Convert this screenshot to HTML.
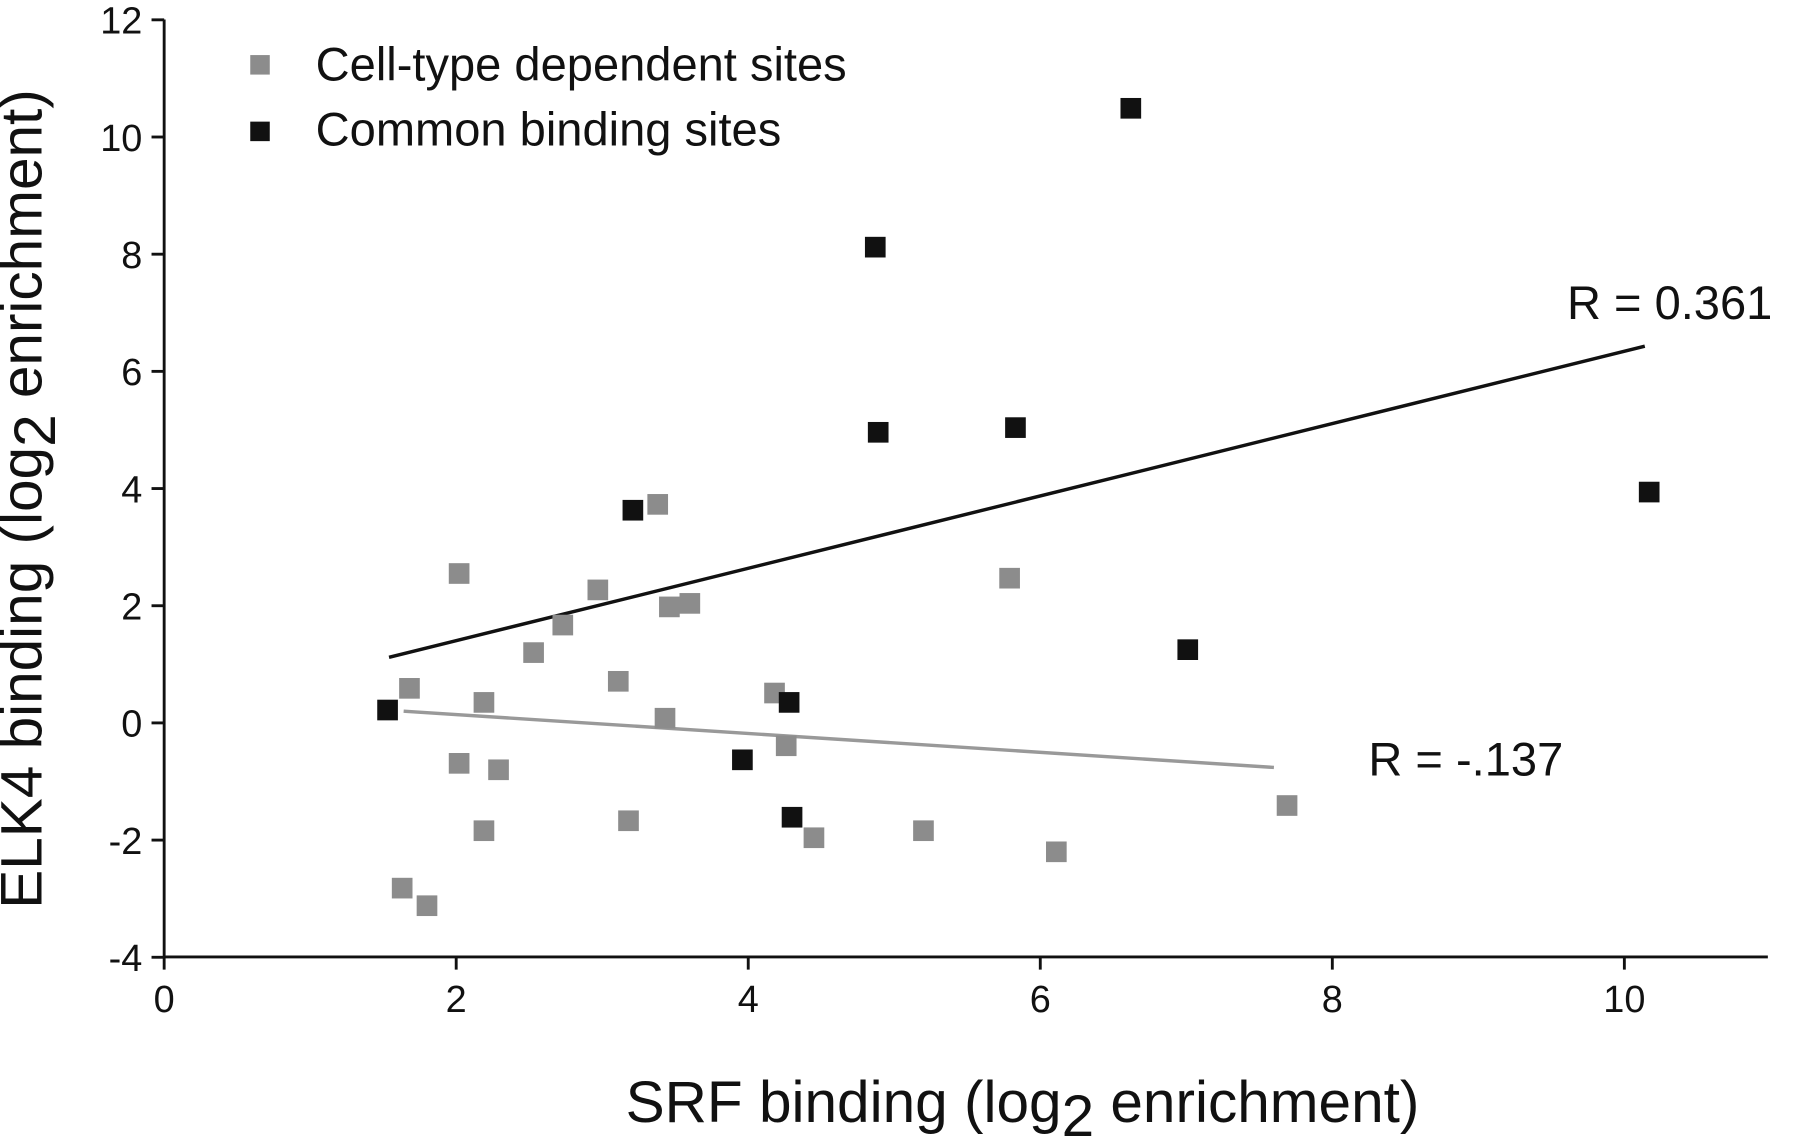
<!DOCTYPE html>
<html><head><meta charset="utf-8"><style>
html,body{margin:0;padding:0;background:#fff}
svg{display:block;font-family:"Liberation Sans",Arial,sans-serif}
</style></head><body>
<svg id="chart" width="1800" height="1136" viewBox="0 0 1568 990" preserveAspectRatio="none" xmlns="http://www.w3.org/2000/svg">
<g id="axes"></g>
<g id="lines"></g>
<g id="points"></g>
<g>
<rect x="218" y="48" width="17" height="17" fill="#8c8c8c"/>
<text x="275" y="70" font-size="41" fill="#111">Cell-type dependent sites</text>
<rect x="218" y="106" width="17" height="17" fill="#111"/>
<text x="275" y="127" font-size="41" fill="#111">Common binding sites</text>
</g>
<text x="1365" y="278" font-size="41" fill="#111">R = 0.361</text>
<text x="1192" y="676" font-size="41" fill="#111">R = -.137</text>
<text x="545" y="978" font-size="51" fill="#111">SRF binding (log<tspan dy="12">2</tspan><tspan dy="-12"> enrichment)</tspan></text>
<text transform="translate(36,792) rotate(-90)" font-size="51" fill="#111">ELK4 binding (log<tspan dy="12">2</tspan><tspan dy="-12"> enrichment)</tspan></text>
</svg>
<script>
const xTicks=[0,2,4,6,8,10];
const yTicks=[-4,-2,0,2,4,6,8,10,12];
const grayX=[1.68,2.02,2.19,2.02,2.29,2.19,1.63,1.80,2.53,2.73,2.97,3.11,3.18,3.38,3.46,3.60,3.43,4.18,4.26,4.45,5.20,5.79,6.11,7.69];
const grayY=[0.59,2.55,0.35,-0.69,-0.80,-1.84,-2.82,-3.12,1.20,1.67,2.27,0.71,-1.67,3.73,1.98,2.04,0.08,0.51,-0.39,-1.96,-1.84,2.47,-2.20,-1.41];
const blackX=[1.53,3.21,3.96,4.28,4.30,4.87,4.89,5.83,6.62,7.01,10.17];
const blackY=[0.22,3.63,-0.63,0.35,-1.61,8.12,4.96,5.04,10.49,1.25,3.94];
const blackLineX=[1.54,10.14];
const blackLineY=[1.12,6.43];
const grayLineX=[1.64,7.60];
const grayLineY=[0.20,-0.76];
const NS="http://www.w3.org/2000/svg";
const sx=v=>143+v*127.2;
const sy=v=>630-v*51.06;
function mk(tag,attrs,parent){const e=document.createElementNS(NS,tag);for(const k in attrs)e.setAttribute(k,attrs[k]);parent.appendChild(e);return e;}
const axes=document.getElementById('axes');
let a=mk('line',{x1:143,y1:17,x2:143,y2:834,stroke:'#111','stroke-width':2.5},axes);


a=mk('line',{x1:143,y1:834,x2:1540,y2:834,stroke:'#111','stroke-width':2.5},axes);


xTicks.forEach(t=>{
 const l=mk('line',{x1:sx(t),y1:834,x2:sx(t),y2:845,stroke:'#111','stroke-width':2.5},axes);
 
 
 const tx=mk('text',{x:sx(t),y:882,'font-size':33,'text-anchor':'middle',fill:'#111'},axes);
 tx.textContent=t;
 
 
});
yTicks.forEach(t=>{
 const l=mk('line',{x1:132,y1:sy(t),x2:143,y2:sy(t),stroke:'#111','stroke-width':2.5},axes);
 
 
 const tx=mk('text',{x:124,y:sy(t)+12,'font-size':33,'text-anchor':'end',fill:'#111'},axes);
 tx.textContent=t;
 
 
});
const lines=document.getElementById('lines');
let ln=mk('line',{x1:sx(blackLineX[0]),y1:sy(blackLineY[0]),x2:sx(blackLineX[1]),y2:sy(blackLineY[1]),stroke:'#111','stroke-width':3},lines);


ln=mk('line',{x1:sx(grayLineX[0]),y1:sy(grayLineY[0]),x2:sx(grayLineX[1]),y2:sy(grayLineY[1]),stroke:'#999','stroke-width':3},lines);


const pts=document.getElementById('points');
grayX.forEach((x,i)=>{
 const r=mk('rect',{x:sx(x)-9,y:sy(grayY[i])-9,width:18,height:18,fill:'#8c8c8c'},pts);
 
 
});
blackX.forEach((x,i)=>{
 const r=mk('rect',{x:sx(x)-9,y:sy(blackY[i])-9,width:18,height:18,fill:'#111'},pts);
 
 
});
</script>
</body></html>
